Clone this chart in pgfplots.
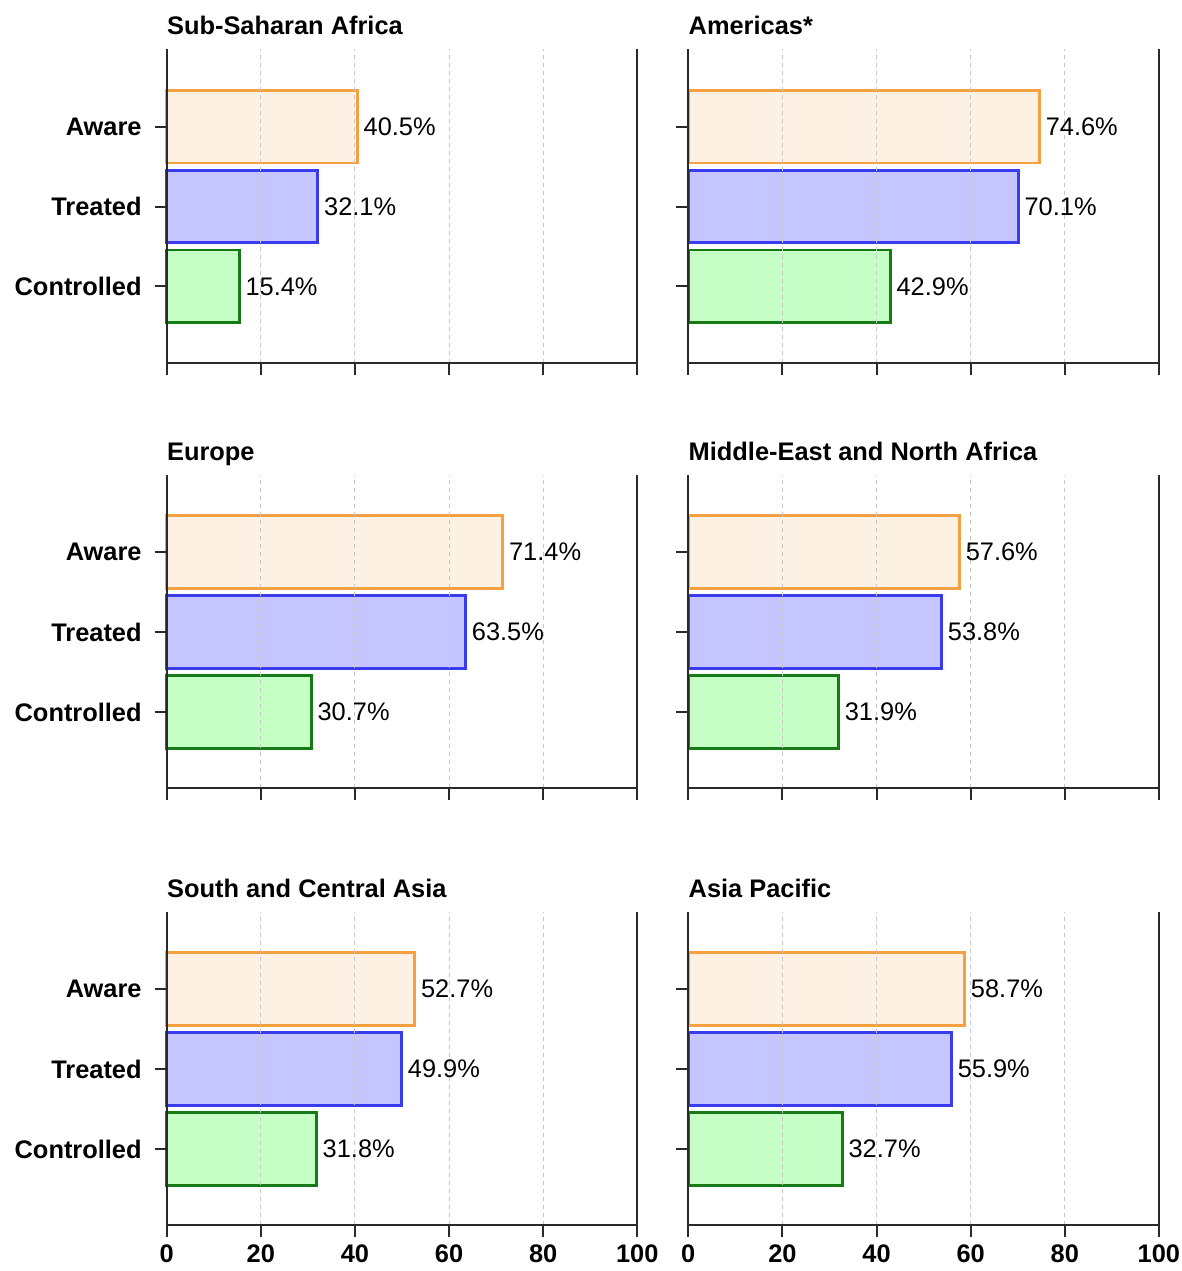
\documentclass[border=0pt]{standalone}
\usepackage{pgfplots}
\pgfplotsset{compat=1.18}
\usepackage{fontspec}
\setmainfont{Liberation Sans}
\definecolor{awE}{HTML}{F5A142}
\definecolor{awF}{HTML}{FDF1E3}
\definecolor{trE}{HTML}{3A3AEE}
\definecolor{trF}{HTML}{C5C5FF}
\definecolor{coE}{HTML}{167A16}
\definecolor{coF}{HTML}{C5FFC5}
\definecolor{axc}{HTML}{2A2A2A}
\newcommand\fs{\fontsize{12.7}{15}\selectfont}
\pgfplotsset{
  panel/.style={
    width=235.3pt, height=156.85pt, scale only axis,
    xmin=0, xmax=100, ymin=0.047, ymax=3.969,
    axis x line=bottom, axis y line=left,
    axis line style={-, line width=1pt, axc},
    xtick={0,20,40,60,80,100}, ytick={1,2,3},
    minor xtick={20,40,60,80}, xminorgrids, minor tick length=0pt,
    tick align=outside, major tick length=6pt,
    tick style={line width=1pt, axc},
    minor grid style={line width=0.5pt, black!22, dash pattern=on 2pt off 2pt},
    xbar, bar width=0.91, bar shift=0pt,
    nodes near coords, point meta=explicit symbolic,
    nodes near coords style={font=\fs, anchor=west, inner sep=2.5pt},
    axis on top,
    /pgf/number format/assume math mode=true,
    ticklabel style={font=\fs\bfseries},
    yticklabel style={xshift=-3pt},
    clip=false,
  },
  aw/.style={draw=awE, fill=awF, line width=1.4pt},
  tr/.style={draw=trE, fill=trF, line width=1.4pt},
  co/.style={draw=coE, fill=coF, line width=1.4pt},
  leftcol/.style={yticklabels={Controlled,Treated,Aware}},
  rightcol/.style={yticklabels={}},
  nolabx/.style={xticklabels={}},
}
\newcommand\paneltitle[1]{\node[anchor=base west, inner sep=0pt, font=\fs\bfseries] at (rel axis cs:0,1) [yshift=7.3pt] {#1};
  \draw[line width=1pt, axc] (rel axis cs:1,0) -- (rel axis cs:1,1);}
\begin{document}
\begin{tikzpicture}
\useasboundingbox (0,0) rectangle (591pt,-635.5pt);
% Row 1
\begin{axis}[panel, leftcol, nolabx, at={(83.35pt,-181.35pt)}, anchor=south west]
\addplot[aw] coordinates {(40.5,3) [40.5\%]};
\addplot[tr] coordinates {(32.1,2) [32.1\%]};
\addplot[co] coordinates {(15.4,1) [15.4\%]};
\paneltitle{Sub-Saharan Africa}
\end{axis}
\begin{axis}[panel, rightcol, nolabx, at={(344.15pt,-181.35pt)}, anchor=south west]
\addplot[aw] coordinates {(74.6,3) [74.6\%]};
\addplot[tr] coordinates {(70.1,2) [70.1\%]};
\addplot[co] coordinates {(42.9,1) [42.9\%]};
\paneltitle{Americas*}
\end{axis}
% Row 2
\begin{axis}[panel, leftcol, nolabx, at={(83.35pt,-394.15pt)}, anchor=south west]
\addplot[aw] coordinates {(71.4,3) [71.4\%]};
\addplot[tr] coordinates {(63.5,2) [63.5\%]};
\addplot[co] coordinates {(30.7,1) [30.7\%]};
\paneltitle{Europe}
\end{axis}
\begin{axis}[panel, rightcol, nolabx, at={(344.15pt,-394.15pt)}, anchor=south west]
\addplot[aw] coordinates {(57.6,3) [57.6\%]};
\addplot[tr] coordinates {(53.8,2) [53.8\%]};
\addplot[co] coordinates {(31.9,1) [31.9\%]};
\paneltitle{Middle-East and North Africa}
\end{axis}
% Row 3
\begin{axis}[panel, leftcol, at={(83.35pt,-612.7pt)}, anchor=south west]
\addplot[aw] coordinates {(52.7,3) [52.7\%]};
\addplot[tr] coordinates {(49.9,2) [49.9\%]};
\addplot[co] coordinates {(31.8,1) [31.8\%]};
\paneltitle{South and Central Asia}
\end{axis}
\begin{axis}[panel, rightcol, at={(344.15pt,-612.7pt)}, anchor=south west]
\addplot[aw] coordinates {(58.7,3) [58.7\%]};
\addplot[tr] coordinates {(55.9,2) [55.9\%]};
\addplot[co] coordinates {(32.7,1) [32.7\%]};
\paneltitle{Asia Pacific}
\end{axis}
\end{tikzpicture}
\end{document}
